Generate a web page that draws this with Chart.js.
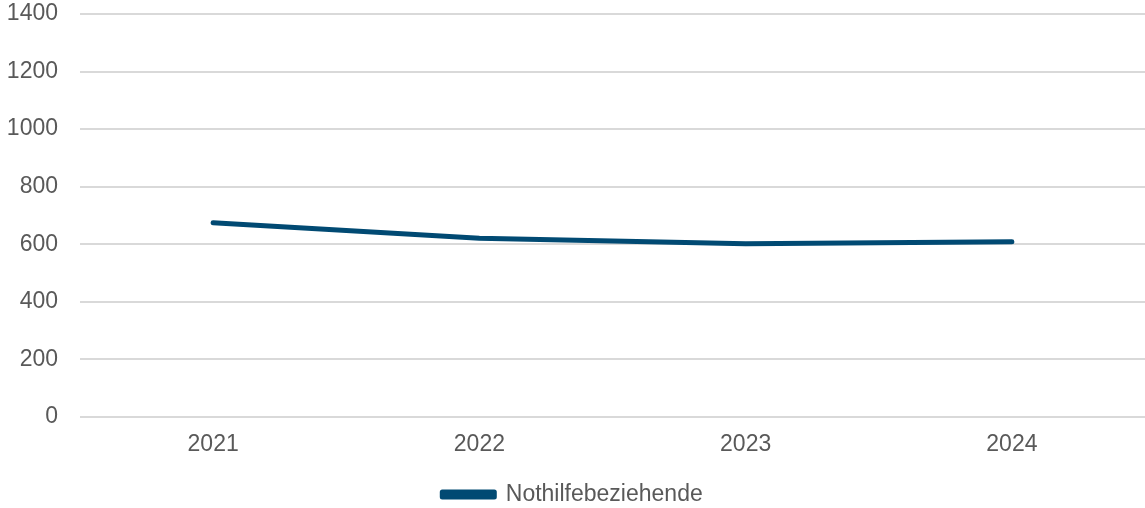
<!DOCTYPE html>
<html>
<head>
<meta charset="utf-8">
<script src="https://cdn.jsdelivr.net/npm/chart.js@4/dist/chart.umd.min.js"></script>
<style>
  html, body { margin: 0; padding: 0; background: #fff; }
  #wrap { width: 1145px; height: 508px; }
</style>
</head>
<body>
<div id="wrap"><canvas id="nothilfeChart"></canvas></div>
<script>
// Daten
const years = ['2021', '2022', '2023', '2024'];
const nothilfeWerte = [675, 621, 602, 609];
const yTicks = [0, 200, 400, 600, 800, 1000, 1200, 1400];

const lineColor = '#014a73';
const textColor = '#595959';

Chart.defaults.font.family = "'Liberation Sans', Arial, sans-serif";
Chart.defaults.font.size = 23;
Chart.defaults.color = textColor;

new Chart(document.getElementById('nothilfeChart'), {
    type: 'line',
    data: {
        labels: years,
        datasets: [{
            label: 'Nothilfebeziehende',
            data: nothilfeWerte,
            borderColor: lineColor,
            backgroundColor: lineColor,
            borderWidth: 5,
            borderCapStyle: 'round',
            borderJoinStyle: 'round',
            pointRadius: 0,
            tension: 0
        }]
    },
    options: {
        responsive: true,
        maintainAspectRatio: false,
        animation: false,
        layout: {
            padding: { top: 0, right: 0, left: 0, bottom: -8 }
        },
        plugins: {
            legend: {
                position: 'bottom',
                labels: {
                    boxWidth: 52,
                    boxHeight: 5,
                    padding: 4,
                    color: textColor,
                    font: { size: 23 }
                }
            },
            tooltip: { enabled: false }
        },
        scales: {
            y: {
                min: 0,
                max: 1400,
                afterBuildTicks: function(axis) {
                    axis.ticks = yTicks.map(v => ({ value: v }));
                },
                afterFit: function(axis) {
                    axis.width = 80;
                    axis.paddingTop = 14;
                    axis.paddingBottom = 0;
                },
                ticks: {
                    padding: 22,
                    color: textColor,
                    callback: function(value) { return String(value); }
                },
                grid: { color: '#d9d9d9', lineWidth: 2, drawTicks: false },
                border: { display: false }
            },
            x: {
                offset: true,
                afterFit: function(axis) { axis.height = 62; },
                ticks: { padding: 14, color: textColor },
                grid: { display: false, drawTicks: false },
                border: { display: false }
            }
        }
    }
});
</script>
</body>
</html>
